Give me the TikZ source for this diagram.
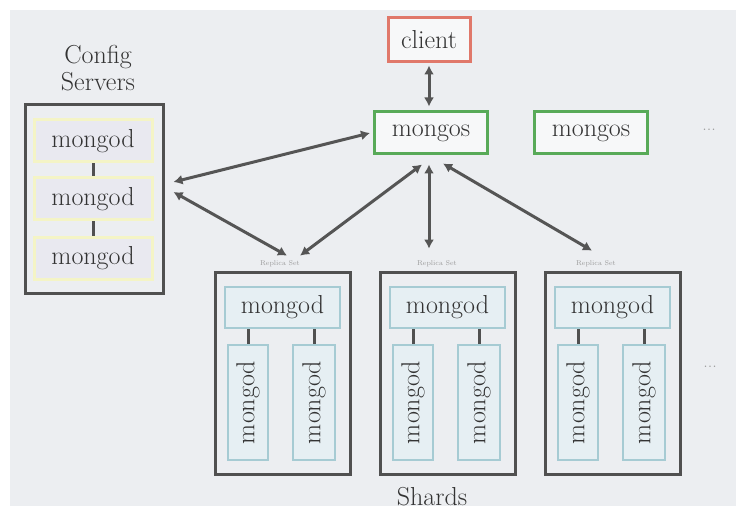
\documentclass[tikz,border=0pt]{standalone}
\usetikzlibrary{arrows.meta,positioning}
\definecolor{bggray}{HTML}{ECEEF1}
\definecolor{darkline}{HTML}{505050}
\definecolor{txtgray}{HTML}{333333}
\definecolor{paleyellow}{HTML}{F4F4C6}
\definecolor{cfgfill}{HTML}{E9E9F0}
\definecolor{rsline}{HTML}{A6CBD3}
\definecolor{rsfill}{HTML}{E6EFF3}
\definecolor{clientred}{HTML}{E0786A}
\definecolor{mongosgreen}{HTML}{58AA58}
\definecolor{arrgray}{HTML}{555555}
\definecolor{lightgray}{HTML}{9A9A9A}

\tikzset{
  txt/.style={font=\fontsize{26}{27}\selectfont, text=txtgray, inner sep=0pt},
  darkbox/.style={draw=darkline, line width=3pt, fill=bggray, inner sep=0pt},
  cfgnode/.style={txt, draw=paleyellow, line width=3pt, fill=cfgfill,
    minimum width=118pt, minimum height=42pt},
  rsnode/.style={txt, draw=rsline, line width=2.5pt, fill=rsfill},
  routerbox/.style={txt, line width=3pt, fill=bggray!40!white, minimum height=42pt},
  link/.style={draw=darkline, line width=3pt},
  arr/.style={{Latex[length=9pt,width=10pt]}-{Latex[length=9pt,width=10pt]},
    line width=3pt, draw=arrgray},
  replab/.style={font=\fontsize{7}{7}\selectfont, text=lightgray, inner sep=0pt},
  dots/.style={font=\fontsize{18}{18}\selectfont, text=lightgray, inner sep=0pt}
}

\begin{document}
\begin{tikzpicture}[x=1pt,y=-1pt]
  \useasboundingbox (0,0) rectangle (736,513);
  \fill[white] (0,0) rectangle (736,513);
  \fill[bggray] (10,10) rectangle (736,506);

  % config servers
  \node[txt, align=center] (cfglab) at (98,68) {Config\\Servers};
  \node[darkbox, minimum width=138pt, minimum height=188pt] (cfg) at (94,199) {};
  \foreach \i/\y in {1/141,2/199,3/258}{ \node[cfgnode] (cm\i) at (93,\y) {mongod}; }
  \draw[link] (cm1) -- (cm2);
  \draw[link] (cm2) -- (cm3);

  % routers
  \node[routerbox, draw=clientred, minimum width=82pt, minimum height=44pt] (client) at (429,40) {client};
  \node[routerbox, draw=mongosgreen, minimum width=113pt] (mgs1) at (431,133) {mongos};
  \node[routerbox, draw=mongosgreen, minimum width=113pt] (mgs2) at (591,133) {mongos};
  \node[dots] (dots1) at (709,130) {...};

  % shards
  \foreach \s/\x/\lx in {1/282.5/280,2/447.5/437,3/612.5/596}{
    \node[darkbox, minimum width=135pt, minimum height=202pt] (rs\s) at (\x,373) {};
    \node[rsnode, minimum width=115pt, minimum height=41pt] (p\s) at (\x,307.5) {mongod};
    \node[rsnode, rotate=90, minimum width=115pt, minimum height=40pt] (a\s) at (\x-34.5,402.5) {mongod};
    \node[rsnode, rotate=90, minimum width=115pt, minimum height=42pt] (b\s) at (\x+31.5,402.5) {mongod};
    \draw[link] (a\s) -- (a\s |- p\s.south);
    \draw[link] (b\s) -- (b\s |- p\s.south);
    \node[replab] (lab\s) at (\lx,264) {Replica Set};
  }
  \node[dots] (dots2) at (710,367) {...};
  \node[txt] (shardlab) at (432,497) {Shards};

  % connections
  \coordinate (cfgA) at ([xshift=9pt,yshift=17pt]cfg.east);
  \coordinate (cfgB) at ([xshift=9pt,yshift=7pt]cfg.east);
  \coordinate (in1a) at ([xshift=7pt,yshift=5pt]lab1.north);
  \coordinate (in1b) at ([xshift=20pt,yshift=5pt]lab1.north);
  \coordinate (in2) at ([xshift=-8pt,yshift=12pt]lab2.north);
  \coordinate (in3) at ([xshift=-4pt,yshift=10pt]lab3.north);
  \draw[arr] ([yshift=-2pt]client.south) -- ([xshift=-2pt,yshift=4pt]mgs1.north);
  \draw[arr] ([xshift=-3pt]mgs1.west) -- (cfgA);
  \draw[arr] (cfgB) -- (in1a);
  \draw[arr] ([xshift=-9pt,yshift=-9pt]mgs1.south) -- (in1b);
  \draw[arr] ([xshift=-2pt,yshift=-9pt]mgs1.south) -- (in2);
  \draw[arr] ([xshift=12pt,yshift=-8pt]mgs1.south) -- (in3);
\end{tikzpicture}
\end{document}
